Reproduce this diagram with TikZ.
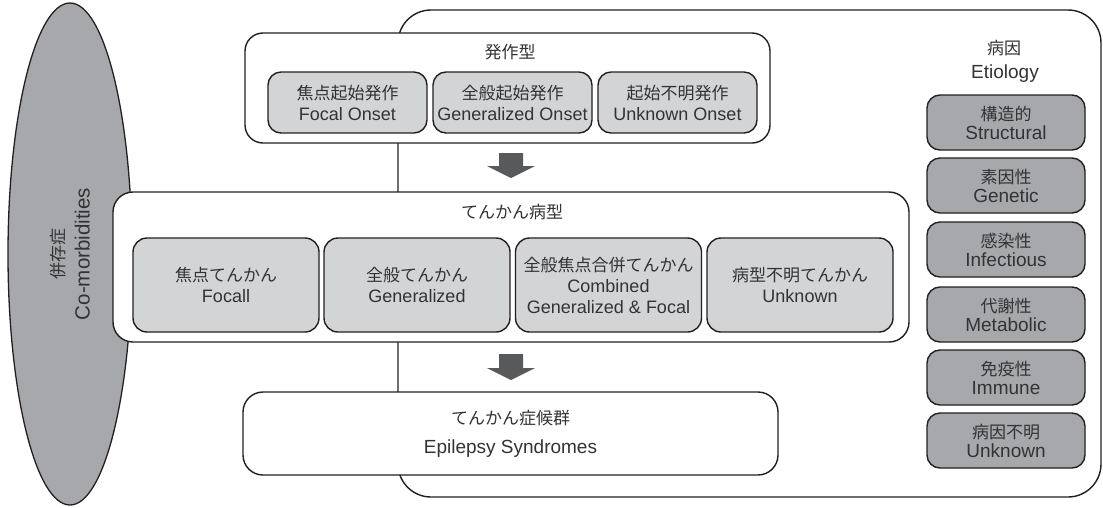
\documentclass[tikz,border=0pt]{standalone}
\usepackage{fontspec}
\setmainfont{Liberation Sans}
\newfontfamily\jpfont{Noto Sans CJK JP}
\usetikzlibrary{shapes.geometric}
\definecolor{lnc}{HTML}{231F20}
\definecolor{txc}{HTML}{333333}
\definecolor{lightbox}{HTML}{D3D4D6}
\definecolor{darkbox}{HTML}{A7A8AB}
\definecolor{arrc}{HTML}{58595B}
\newcommand\jtx[1]{{\jpfont\fontsize{17}{21}\selectfont #1}}
\tikzset{
  basebox/.style={draw=lnc, line width=1.4pt, text=txc, font=\fontsize{18}{21}\selectfont, align=center, inner sep=0pt, rectangle},
  whitebox/.style={basebox, fill=white, rounded corners=18pt},
  onsetbox/.style={basebox, fill=lightbox, rounded corners=13pt, minimum width=159pt, minimum height=61pt},
  typebox/.style={basebox, fill=lightbox, rounded corners=14pt, minimum width=186pt, minimum height=94pt},
  etiobox/.style={basebox, fill=darkbox, rounded corners=13pt, minimum width=158pt, minimum height=55pt, font=\fontsize{19}{21}\selectfont},
  plaintext/.style={text=txc, font=\fontsize{18}{21}\selectfont, align=center, inner sep=0pt},
  blockarrow/.style={fill=arrc}
}
\begin{document}
\begin{tikzpicture}[x=1pt,y=-1pt]
\useasboundingbox (0,0) rectangle (1103,507);
% etiology frame
\node[whitebox, rounded corners=33pt, minimum width=703pt, minimum height=487pt] (etioframe) at (749.5,253.5) {};
% comorbidities ellipse
\node[ellipse, draw=lnc, line width=1.3pt, fill=darkbox, minimum width=124pt, minimum height=502pt, inner sep=0pt] (comorb) at (70,254) {};
\node[plaintext, rotate=90, font=\fontsize{20.5}{25}\selectfont] (comorbtext) at (comorb.center) {{\jpfont\fontsize{17}{25}\selectfont 併存症}\\Co-morbidities};
% seizure type
\node[whitebox, minimum width=525pt, minimum height=110pt] (onset) at (507.5,88) {};
\node[plaintext] (onsettitle) at (510,52) {\jtx{発作型}};
\node[onsetbox] (focalonset) at (347.5,102.5) {\jtx{焦点起始発作}\\Focal Onset};
\node[onsetbox] (genonset) at (512.5,102.5) {\jtx{全般起始発作}\\Generalized Onset};
\node[onsetbox] (unkonset) at (677.5,102.5) {\jtx{起始不明発作}\\Unknown Onset};
% epilepsy type
\node[whitebox, rounded corners=20pt, minimum width=796pt, minimum height=150pt] (eptype) at (511,267) {};
\node[plaintext] (eptypetitle) at (512,212) {\jtx{てんかん病型}};
\node[typebox] (focal) at (226,285) {\jtx{焦点てんかん}\\Focall};
\node[typebox] (generalized) at (417,285) {\jtx{全般てんかん}\\Generalized};
\node[typebox] (combined) at (608.5,285) {\jtx{全般焦点合併てんかん}\\Combined\\Generalized \& Focal};
\node[typebox] (unknowntype) at (800,285) {\jtx{病型不明てんかん}\\Unknown};
% syndromes
\node[whitebox, rounded corners=20pt, minimum width=535pt, minimum height=83pt, font=\fontsize{19}{21}\selectfont] (syndromes) at (510.5,433.5) {\jtx{てんかん症候群}\\[8pt]Epilepsy Syndromes};
% arrows
\coordinate (arrowa) at (511,153);
\coordinate (arrowb) at (511,354);
\fill[blockarrow] (arrowa) ++(-12,0) -- ++(24,0) -- ++(0,13) -- ++(12,0) -- ++(-24,12) -- ++(-24,-12) -- ++(12,0) -- cycle;
\fill[blockarrow] (arrowb) ++(-12,0) -- ++(24,0) -- ++(0,14) -- ++(12,0) -- ++(-24,12) -- ++(-24,-12) -- ++(12,0) -- cycle;
% etiology
\node[plaintext] (etiotitle) at (1004,48) {\jtx{病因}};
\node[plaintext, font=\fontsize{19}{21}\selectfont] (etiotitleen) at (1005,74) {Etiology};
\node[etiobox] (structural) at (1006,122.5) {\jtx{構造的}\\[-2pt]Structural};
\node[etiobox] (genetic) at (1006,185.5) {\jtx{素因性}\\[-2pt]Genetic};
\node[etiobox] (infectious) at (1006,249.5) {\jtx{感染性}\\[-2pt]Infectious};
\node[etiobox] (metabolic) at (1006,314.5) {\jtx{代謝性}\\[-2pt]Metabolic};
\node[etiobox] (immune) at (1006,377.5) {\jtx{免疫性}\\[-2pt]Immune};
\node[etiobox] (unknownetio) at (1006,440.5) {\jtx{病因不明}\\[-2pt]Unknown};
\end{tikzpicture}
\end{document}
